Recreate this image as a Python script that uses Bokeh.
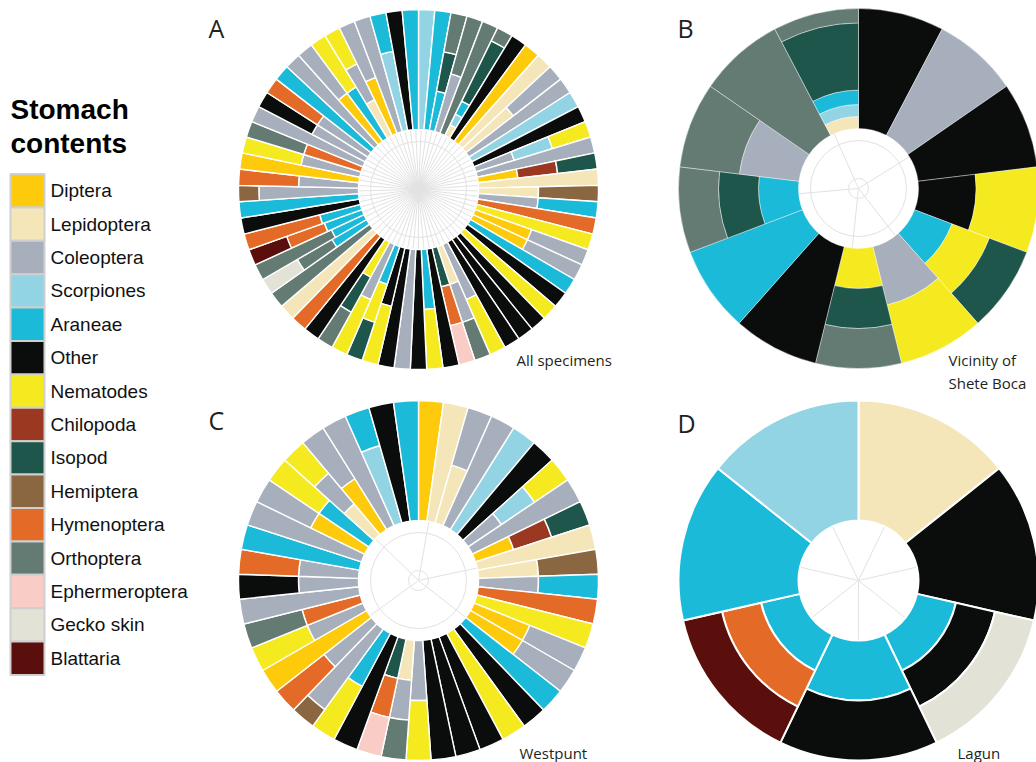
import math
from bokeh.plotting import figure
from bokeh.models import ColumnDataSource, Range1d
from bokeh.embed import file_html
from bokeh.resources import INLINE
from bokeh.core.properties import value

# ---------------- data ----------------
categories = ["Diptera", "Lepidoptera", "Coleoptera", "Scorpiones", "Araneae",
              "Other", "Nematodes", "Chilopoda", "Isopod", "Hemiptera",
              "Hymenoptera", "Orthoptera", "Ephermeroptera", "Gecko skin", "Blattaria"]
codes = ["DIP", "LEP", "COL", "SCO", "ARA", "OTH", "NEM", "CHI", "ISO", "HEM",
         "HYM", "ORT", "EPH", "GEC", "BLA"]
colors = ["#FDCB0C", "#F5E6BA", "#A6AFBB", "#93D4E4", "#1ABAD8", "#0B0C0C",
          "#F5EA20", "#9A3822", "#1F564C", "#8A6641", "#E36B27", "#637B73",
          "#F9CDC6", "#E3E2D6", "#5B0F0C"]

T = 1 / 3
# each specimen: list of (prey code, proportion), from inner to outer ring

# C - Westpunt (45 specimens, clockwise from 12 o'clock)
westpunt = [
    [("DIP", 1)], [("LEP", 1)], [("LEP", .5), ("COL", .5)], [("COL", 1)],
    [("SCO", 1)], [("OTH", 1)], [("COL", T), ("SCO", T), ("NEM", T)], [("COL", 1)],
    [("DIP", T), ("CHI", T), ("ISO", T)], [("LEP", 1)], [("LEP", .5), ("HEM", .5)],
    [("COL", .5), ("ARA", .5)], [("HYM", 1)], [("NEM", 1)], [("DIP", .5), ("COL", .5)],
    [("DIP", .5), ("COL", .5)], [("ARA", 1)], [("OTH", 1)], [("NEM", 1)],
    [("OTH", 1)], [("OTH", 1)], [("OTH", 1)], [("COL", .5), ("NEM", .5)],
    [("LEP", T), ("COL", T), ("ORT", T)], [("ISO", T), ("HYM", T), ("EPH", T)],
    [("OTH", 1)], [("ARA", .5), ("NEM", .5)],
    [("COL", .83), ("HEM", .17)], [("COL", .5), ("HYM", .5)], [("DIP", 1)],
    [("COL", .5), ("NEM", .5)], [("HYM", .5), ("ORT", .5)], [("COL", 1)],
    [("COL", .5), ("OTH", .5)], [("COL", .5), ("HYM", .5)], [("ARA", 1)],
    [("COL", 1)], [("DIP", .5), ("COL", .5)], [("ARA", .5), ("NEM", .5)],
    [("LEP", T), ("COL", T), ("NEM", T)], [("DIP", .5), ("COL", .5)], [("COL", 1)],
    [("SCO", .67), ("ARA", .33)], [("OTH", 1)], [("ARA", 1)],
]

# B - Vicinity of Shete Boca (13 specimens)
shete_boca = [
    [("OTH", 1)], [("COL", 1)], [("OTH", 1)], [("OTH", .48), ("NEM", .52)],
    [("ARA", T), ("NEM", T), ("ISO", T)], [("COL", .5), ("NEM", .5)],
    [("NEM", T), ("ISO", T), ("ORT", T)], [("OTH", 1)], [("ARA", 1)],
    [("ARA", T), ("ISO", T), ("ORT", T)], [("COL", .5), ("ORT", .5)], [("ORT", 1)],
    [("LEP", .1), ("SCO", .1), ("ARA", .12), ("ISO", .56), ("ORT", .12)],
]

# D - Lagun (7 specimens)
lagun = [
    [("LEP", 1)], [("OTH", 1)], [("ARA", T), ("OTH", T), ("GEC", T)],
    [("ARA", .5), ("OTH", .5)], [("ARA", T), ("HYM", T), ("BLA", T)],
    [("ARA", 1)], [("SCO", 1)],
]

# A - All specimens (69): remaining specimens
all_head = [
    [("SCO", 1)], [("ARA", 1)], [("ARA", T), ("ISO", T), ("ORT", T)],
    [("COL", .5), ("ORT", .5)], [("ORT", 1)],
    [("LEP", .1), ("SCO", .1), ("ARA", .12), ("ISO", .56), ("ORT", .12)],
    [("OTH", 1)],
]
all_mid = [
    [("OTH", 1)], [("COL", 1)], [("OTH", 1)], [("OTH", .5), ("NEM", .5)],
    [("ARA", T), ("NEM", T), ("ISO", T)], [("COL", .5), ("NEM", .5)],
    [("NEM", T), ("ISO", T), ("ORT", T)], [("OTH", 1)],
    [("HYM", 1)], [("LEP", 1)], [("ORT", 1)], [("ARA", T), ("ORT", T), ("GEC", T)],
    [("ARA", .3), ("ORT", .7)], [("ARA", T), ("HYM", T), ("BLA", T)],
    [("ARA", .35), ("HYM", .65)], [("OTH", 1)], [("ARA", 1)],
]
all_specimens = all_head + westpunt[:27] + all_mid + westpunt[27:]

panel_letters = ["A", "B", "C", "D"]
panel_titles = [["All specimens"], ["Vicinity of", "Shete Boca"], ["Westpunt"], ["Lagun"]]
legend_title = ["Stomach", "contents"]

# ---------------- layout ----------------
W, H = 1036, 762
def sx(X): return X
def sy(Y): return H - Y

color_of = dict(zip(codes, colors))
R_IN, R_OUT = 60, 180

p = figure(width=W, height=H, x_range=Range1d(0, W), y_range=Range1d(0, H),
           output_backend="svg", toolbar_location=None,
           x_axis_location=None, y_axis_location=None, min_border=0)
p.outline_line_color = None
p.xgrid.visible = False
p.ygrid.visible = False
p.background_fill_color = "white"
p.border_fill_color = "white"

GRID = "#e2e2e2"

def draw_panel(specimens, X, Y, lw, grid_angles, circles):
    cx, cy = sx(X), sy(Y)
    n = len(specimens)
    w = 2 * math.pi / n
    # hole grid
    angs = grid_angles if grid_angles is not None else [(i + .5) * w for i in range(n)]
    x0, y0, x1, y1 = [], [], [], []
    for a in angs:
        m = math.pi / 2 - a
        x0.append(cx); y0.append(cy)
        x1.append(cx + R_IN * math.cos(m)); y1.append(cy + R_IN * math.sin(m))
    p.segment(x0, y0, x1, y1, line_color=GRID, line_width=1)
    for rc in circles:
        p.circle(x=[cx], y=[cy], radius=rc, fill_color=None, line_color=GRID, line_width=1)
    d = dict(x=[], y=[], ri=[], ro=[], a0=[], a1=[], c=[])
    for i, spec in enumerate(specimens):
        t0, t1 = i * w, (i + 1) * w
        total = sum(f for _, f in spec)
        acc = 0.0
        for code, f in spec:
            ri = R_IN + (R_OUT - R_IN) * acc / total
            acc += f
            ro = R_IN + (R_OUT - R_IN) * acc / total
            d["x"].append(cx); d["y"].append(cy)
            d["ri"].append(ri); d["ro"].append(ro)
            d["a0"].append(math.pi / 2 - t1); d["a1"].append(math.pi / 2 - t0)
            d["c"].append(color_of[code])
    src = ColumnDataSource(d)
    p.annular_wedge(x="x", y="y", inner_radius="ri", outer_radius="ro",
                    start_angle="a0", end_angle="a1", fill_color="c",
                    line_color="white", line_width=lw, source=src)

deg = math.pi / 180
draw_panel(all_specimens, 418, 189, 1.4, None, [48])
draw_panel(shete_boca, 858, 188, 0.4, [a * deg for a in [336, 58, 142, 186, 265]], [48, 10])
draw_panel(westpunt, 418, 580, 1.4, [a * deg for a in [10, 78, 128, 234, 314]], [48, 10])
draw_panel(lagun, 858, 580, 2.0, None, [])

TXT = "#231f20"
# panel letters (vertical centres)
p.text(x=[sx(208), sx(677), sx(208), sx(677)], y=[sy(27), sy(27), sy(419), sy(422)],
       text=panel_letters, text_font=value("Open Sans"), text_font_size=value("25px"),
       text_color=TXT, text_baseline="middle", text_align="left")
# locality labels
lx = [sx(516), sx(948), sx(948), sx(519), sx(957)]
ly = [sy(359), sy(359), sy(382), sy(752), sy(752)]
lt = [panel_titles[0][0], panel_titles[1][0], panel_titles[1][1], panel_titles[2][0], panel_titles[3][0]]
p.text(x=lx, y=ly, text=lt, text_font=value("Open Sans"), text_font_size=value("15px"),
       text_color=TXT, text_baseline="middle", text_align="left")

# legend
p.text(x=[sx(10), sx(10)], y=[sy(109), sy(143)], text=legend_title,
       text_font=value("Liberation Sans"), text_font_style="bold",
       text_font_size=value("28px"), text_color="#000000",
       text_baseline="middle", text_align="left")
pitch = 33.4
top0 = 173.5
lefts, rights, tops, bottoms, ys = [], [], [], [], []
for i in range(len(categories)):
    t = top0 + i * pitch
    lefts.append(sx(10)); rights.append(sx(44))
    tops.append(sy(t)); bottoms.append(sy(t + pitch))
    ys.append(sy(t + pitch / 2))
p.quad(left=lefts, right=rights, top=tops, bottom=bottoms, fill_color=colors,
       line_color="#cfcfcf", line_width=2)
p.text(x=[sx(50)] * len(categories), y=ys, text=categories,
       text_font=value("Liberation Sans"), text_font_size=value("19px"),
       text_color="#111111", text_baseline="middle", text_align="left")

open("out.html", "w").write(file_html(p, INLINE))
